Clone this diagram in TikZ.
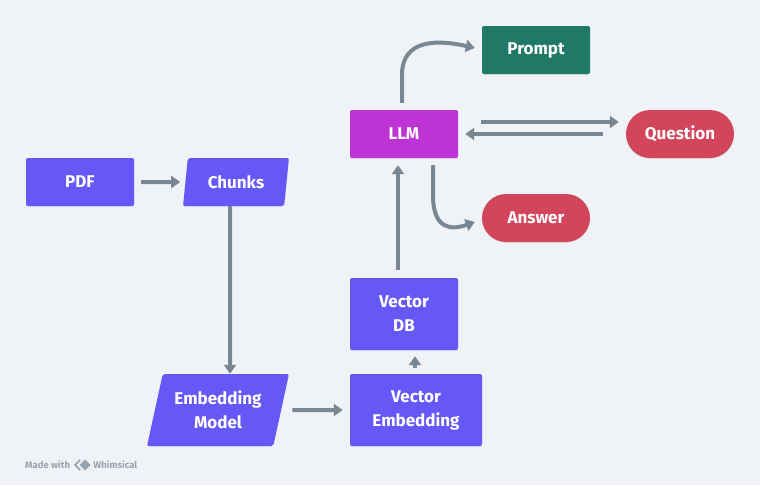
\documentclass[tikz,border=0pt]{standalone}
\usepackage{fontspec}
\setmainfont{Fira Sans}
\usetikzlibrary{arrows.meta,shapes.geometric,calc,shadows}
\definecolor{bg}{HTML}{EFF3F7}
\definecolor{blu}{HTML}{6658F6}
\definecolor{llmc}{HTML}{BE33D3}
\definecolor{grn}{HTML}{207967}
\definecolor{redc}{HTML}{D3455A}
\definecolor{arr}{HTML}{7A8793}
\definecolor{wm}{HTML}{9AA4AF}
\tikzset{
  box/.style={rounded corners=2pt, text=white, font=\fontsize{17}{24}\selectfont\bfseries,
    align=center, inner sep=0pt, drop shadow={opacity=0.12, shadow xshift=0pt, shadow yshift=-1pt}},
  rect/.style={box, rectangle, minimum width=108pt, minimum height=48pt},
  pill/.style={box, rectangle, rounded corners=24pt, minimum width=108pt, minimum height=48pt, fill=redc},
  para/.style={box, trapezium, trapezium stretches=true, fill=blu},
  conn/.style={draw=arr, line width=4pt, -{Triangle[length=9pt,width=12pt]}},
  wmtext/.style={text=wm, font=\fontsize{9.5}{11}\selectfont\bfseries, inner sep=0pt},
}
\begin{document}
\begin{tikzpicture}[x=1pt,y=-1pt]
\fill[bg] (0,0) rectangle (760,485);
\useasboundingbox (0,0) rectangle (760,485);

\node[rect, fill=blu] (pdf) at (80,182) {PDF};
\node[para, minimum width=106pt, minimum height=48pt, trapezium left angle=78, trapezium right angle=102] (chunks) at (236,182) {Chunks};
\node[para, minimum width=142pt, minimum height=72pt, trapezium left angle=72, trapezium right angle=108] (emb) at (218,410) {Embedding\\Model};
\node[rect, fill=blu, minimum width=132pt, minimum height=72pt] (vemb) at (416,410) {Vector\\Embedding};
\node[rect, fill=blu, minimum height=72pt] (vdb) at (404,314) {Vector\\DB};
\node[rect, fill=llmc] (llm) at (404,134) {LLM};
\node[rect, fill=grn] (prompt) at (536,50) {Prompt};
\node[pill] (question) at (680,134) {Question};
\node[pill] (answer) at (536,218) {Answer};

\draw[conn] ($(pdf.east)+(7,0)$) -- ($(chunks.west)+(-5,0)$);
\draw[conn] ($(chunks.south)+(-6,0)$) -- ($(emb.north)+(12,0)$);
\draw[conn] ($(emb.east)+(11,0)$) -- ($(vemb.west)+(-7,0)$);
\draw[conn] ($(vemb.north)+(-1,-6)$) -- ($(vdb.south)+(11,6)$);
\draw[conn] ($(vdb.north)+(-6,-8)$) -- ($(llm.south)+(-6,7)$);
\draw[conn] ($(llm.east)+(23,-12)$) -- ($(question.west)+(-7,-12)$);
\draw[conn] ($(question.west)+(-23,0)$) -- ($(llm.east)+(7,0)$);
\draw[conn] ($(llm.north)+(-2,-7)$) -- ++(0,-28) .. controls +(0,-37) and (440,40) .. ($(prompt.west)+(-7,-2)$);
\draw[conn] ($(llm.south)+(29,7)$) -- ++(0,30) .. controls +(0,35) and (452,230) .. ($(answer.west)+(-7,4)$);

% watermark
\node[anchor=west, wmtext] (made) at (25,465) {Made with};
\coordinate (logo) at ($(made.east)+(4,0)$);
\draw[wm, line width=1.8pt, line join=miter] ($(logo)+(6,-5)$) -- ($(logo)+(1,0)$) -- ($(logo)+(6,5)$);
\fill[wm] ($(logo)+(11,-5.5)$) -- ($(logo)+(16.5,0)$) -- ($(logo)+(11,5.5)$) -- ($(logo)+(5.5,0)$) -- cycle;
\node[anchor=west, wmtext] (whim) at ($(made.east)+(23,0)$) {Whimsical};
\end{tikzpicture}
\end{document}
